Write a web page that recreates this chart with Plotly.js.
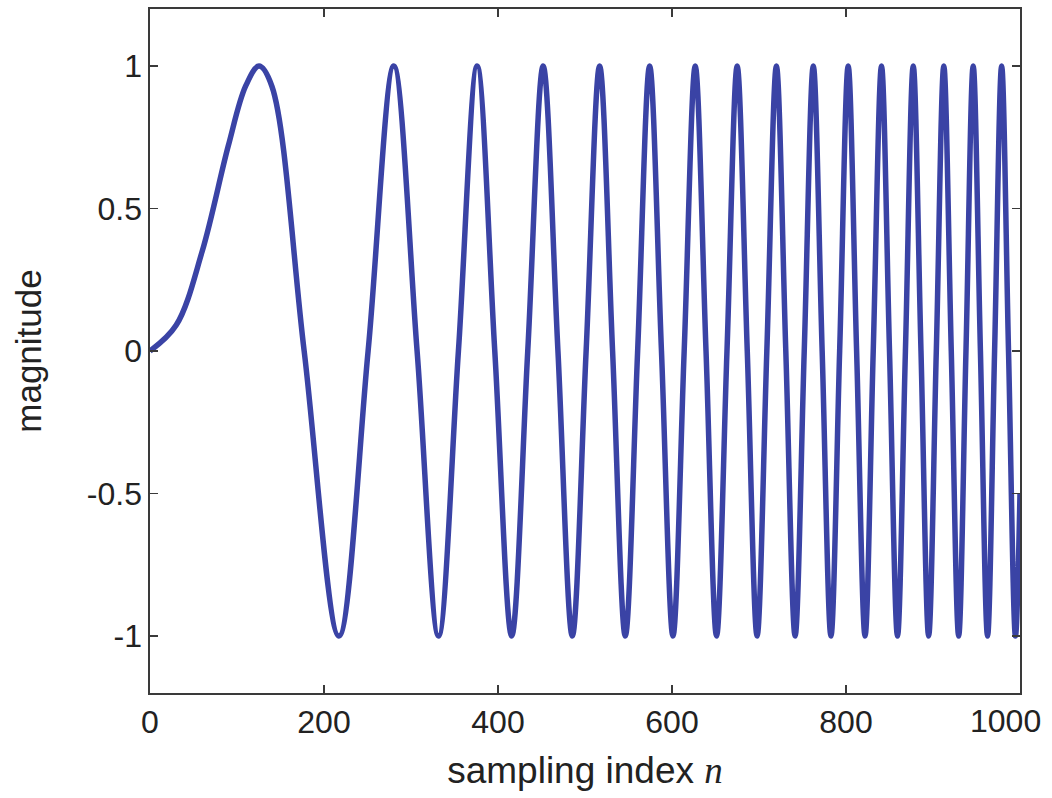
<!DOCTYPE html>
<html>
<head>
<meta charset="utf-8">
<script src="https://cdn.plot.ly/plotly-3.0.1.min.js"></script>
<style>html,body{margin:0;padding:0;background:#fff;}#chart{width:1052px;height:798px;}</style>
</head>
<body>
<div id="chart"></div>
<script>
// Sampling indices (start, first-lobe points, extrema and zero crossings, end)
const sampleIndex = [
  0, 30, 60, 90, 110, 125.3, 140, 177.2, 217.1, 250.7, 280.2, 307.0, 331.6, 354.5, 376.0,
  396.3, 415.7, 434.2, 451.9, 468.9, 485.4, 501.3, 516.8, 531.7, 546.3, 560.5, 574.3,
  587.9, 601.1, 614.0, 626.7, 639.1, 651.2, 663.2, 674.9, 686.5, 697.8, 709.0, 720.0,
  730.8, 741.5, 752.0, 762.4, 772.6, 782.7, 792.7, 802.5, 812.2, 821.9, 831.3, 840.8,
  850.0, 859.2, 868.3, 877.3, 886.2, 895.0, 903.8, 912.4, 921.0, 929.5, 937.9, 946.2,
  954.5, 962.7, 970.8, 978.9, 986.8, 994.8, 1000
];
// Magnitude at those indices
const magnitude = [
  0, 0.09, 0.35, 0.72, 0.93, 1, 0.93, 0, -1, 0, 1, 0, -1, 0, 1,
  0, -1, 0, 1, 0, -1, 0, 1, 0, -1, 0, 1,
  0, -1, 0, 1, 0, -1, 0, 1, 0, -1, 0, 1,
  0, -1, 0, 1, 0, -1, 0, 1, 0, -1, 0, 1,
  0, -1, 0, 1, 0, -1, 0, 1, 0, -1, 0, 1,
  0, -1, 0, 1, 0, -1, -0.5
];
const xTickVals = [0, 200, 400, 600, 800, 1000];
const xTickText = ['0', '200', '400', '600', '800', ''];
const lastTickLabel = '1000';
const yTickVals = [-1, -0.5, 0, 0.5, 1];
const yTickText = ['-1', '-0.5', '0', '0.5', '1'];

const tickFont = {family: 'Liberation Sans, Arial, sans-serif', size: 32, color: '#222'};
const axisCommon = {
  showline: true, linecolor: '#3a3a3a', linewidth: 1.6,
  mirror: 'allticks', ticks: 'inside', ticklen: 8, tickwidth: 1.5, tickcolor: '#3a3a3a',
  showgrid: false, zeroline: false,
  tickfont: tickFont
};

const trace = {
  x: sampleIndex, y: magnitude, type: 'scatter', mode: 'lines',
  line: {color: '#3a43a5', width: 5.5, shape: 'spline', smoothing: 1},
  hoverinfo: 'skip'
};

const layout = {
  width: 1052, height: 798,
  margin: {l: 150, r: 32, t: 9, b: 105},
  paper_bgcolor: '#fff', plot_bgcolor: '#fff',
  showlegend: false,
  xaxis: Object.assign({}, axisCommon, {
    range: [0, 1000], tickvals: xTickVals, ticktext: xTickText,
    title: {text: 'sampling index <i><span style="font-family:Liberation Serif, Times New Roman, serif">n</span></i>',
            font: {family: 'Liberation Sans, Arial, sans-serif', size: 37, color: '#222'}, standoff: 18}
  }),
  yaxis: Object.assign({}, axisCommon, {
    range: [-1.2, 1.2], tickvals: yTickVals, ticktext: yTickText,
    title: {text: 'magnitude', font: {family: 'Liberation Sans, Arial, sans-serif', size: 35, color: '#222'}, standoff: 34}
  }),
  annotations: [{
    text: lastTickLabel, x: xTickVals[xTickVals.length - 1], xref: 'x', y: 0, yref: 'paper',
    xanchor: 'right', yanchor: 'middle', xshift: 23, yshift: -28, showarrow: false,
    font: tickFont
  }]
};

Plotly.newPlot('chart', [trace], layout, {displayModeBar: false, staticPlot: true});
</script>
</body>
</html>
